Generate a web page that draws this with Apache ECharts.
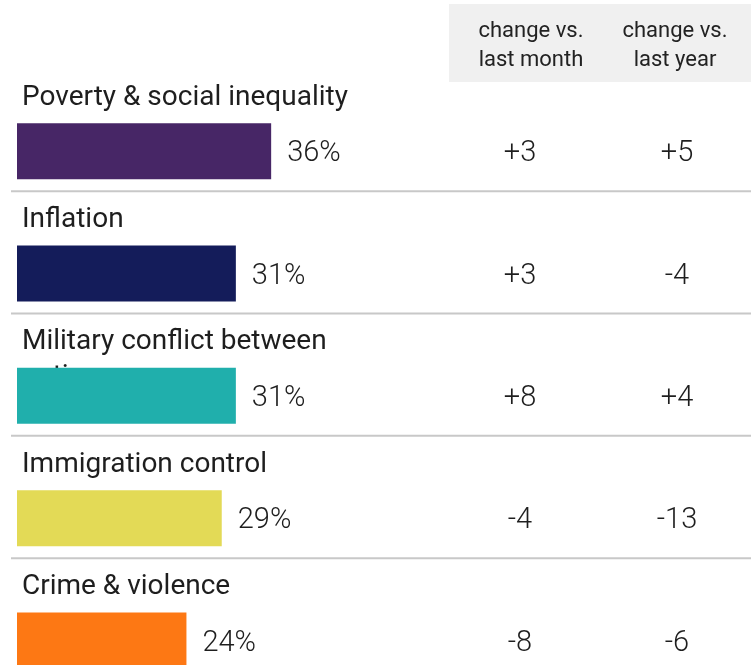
<!DOCTYPE html>
<html><head><meta charset="utf-8">
<script src="https://cdn.jsdelivr.net/npm/echarts@6/dist/echarts.min.js"></script>
<style>html,body{margin:0;padding:0;background:#fff}#c{width:751px;height:665px}</style>
</head><body><div id="c"></div>
<script>
const categories = ['Poverty & social inequality','Inflation','Military conflict between nations','Immigration control','Crime & violence'];
const shares = [36, 31, 31, 29, 24];
const changeMonth = ['+3','+3','+8','-4','-8'];
const changeYear = ['+5','-4','+4','-13','-6'];
const barColors = ['#472666','#141c5a','#20afac','#e3da56','#fd7814'];
const headers = ['change vs.\nlast month','change vs.\nlast year'];

const FONT = 'Roboto';
const COL1 = 520, COL2 = 677;
const chart = echarts.init(document.getElementById('c'));
const data = categories.map((c,i)=>[shares[i], i]);

chart.setOption({
  animation:false,
  grid:{left:17, width:706, top:90, bottom:0},
  xAxis:{type:'value', min:0, max:100, show:false},
  yAxis:{type:'value', inverse:true, min:-0.5, max:4.2, show:false},
  graphic:[
    {type:'rect', shape:{x:449,y:4,width:302,height:78}, style:{fill:'#f0f0f0'}},
    {type:'text', x:531, y:46, style:{text:headers[0], fill:'#222', font:'400 22px '+FONT, align:'center', verticalAlign:'middle', lineHeight:29}},
    {type:'text', x:675, y:46, style:{text:headers[1], fill:'#222', font:'400 22px '+FONT, align:'center', verticalAlign:'middle', lineHeight:29}}
  ],
  series:[{
    type:'custom',
    data:data,
    renderItem:function(params, api){
      const i = api.value(1);
      const v = api.value(0);
      const p0 = api.coord([0, i]);
      const p1 = api.coord([v, i]);
      const bh = 56;
      const cy = p0[1];
      const children = [
        {type:'text', z2:1, x:22, y:cy-71, style:{text:categories[i], width:360, overflow:'break', lineHeight:35, fill:'#1e1e1e', font:'400 28px '+FONT, verticalAlign:'top', align:'left'}},
        {type:'rect', z2:5, shape:{x:p0[0], y:cy-bh/2, width:p1[0]-p0[0], height:bh}, style:{fill:barColors[i]}},
        {type:'text', z2:6, x:p1[0]+16, y:cy+3, style:{text:v+'%', fill:'#1e1e1e', font:'300 29px '+FONT, verticalAlign:'middle', align:'left'}},
        {type:'text', z2:6, x:COL1, y:cy+3, style:{text:changeMonth[i], fill:'#1e1e1e', font:'300 29px '+FONT, verticalAlign:'middle', align:'center'}},
        {type:'text', z2:6, x:COL2, y:cy+3, style:{text:changeYear[i], fill:'#1e1e1e', font:'300 29px '+FONT, verticalAlign:'middle', align:'center'}}
      ];
      if (i < categories.length-1) {
        children.push({type:'line', z2:2, shape:{x1:11, y1:cy+40, x2:751, y2:cy+40}, style:{stroke:'#c8c8c8', lineWidth:2}});
      }
      return {type:'group', children:children};
    }
  }]
});
</script></body></html>
